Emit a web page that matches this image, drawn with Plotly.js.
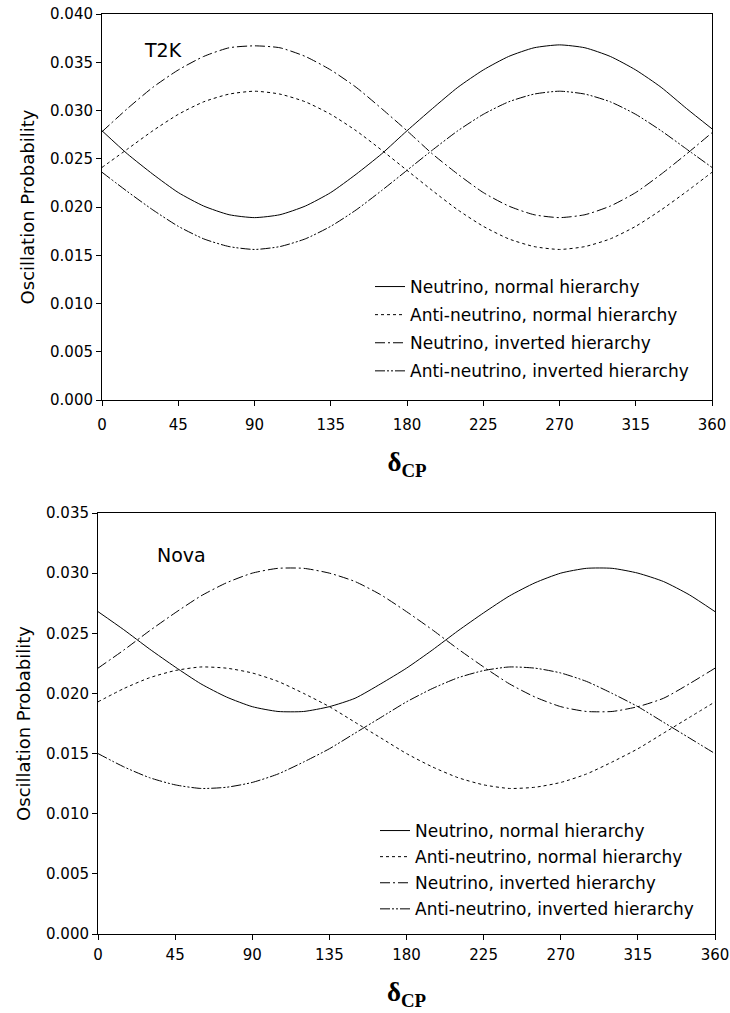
<!DOCTYPE html>
<html>
<head>
<meta charset="utf-8">
<script src="https://cdn.plot.ly/plotly-3.0.1.min.js"></script>
<style>html,body{margin:0;padding:0;background:#fff;}#chart{width:730px;height:1013px;}</style>
</head>
<body>
<div id="chart"></div>
<script>
// delta_CP values (degrees)
const deltaCP = [0,15,30,45,60,75,90,105,120,135,150,165,180,195,210,225,240,255,270,285,300,315,330,345,360];

// T2K panel
const t2kNuNormal   = [0.0279,0.0255,0.0234,0.0215,0.0201,0.0192,0.0189,0.0192,0.0201,0.0215,0.0234,0.0255,0.0279,0.0302,0.0324,0.0342,0.0356,0.0365,0.0368,0.0365,0.0356,0.0342,0.0324,0.0302,0.0281];
const t2kAntiNormal = [0.0241,0.0260,0.0279,0.0296,0.0309,0.0317,0.0320,0.0317,0.0309,0.0296,0.0279,0.0259,0.0238,0.0217,0.0197,0.0180,0.0167,0.0159,0.0156,0.0159,0.0167,0.0180,0.0197,0.0216,0.0236];
const t2kNuInverted = [0.0278,0.0302,0.0324,0.0342,0.0356,0.0365,0.0367,0.0365,0.0356,0.0342,0.0324,0.0302,0.0279,0.0255,0.0234,0.0215,0.0201,0.0192,0.0189,0.0192,0.0201,0.0215,0.0234,0.0255,0.0277];
const t2kAntiInverted = [0.0236,0.0216,0.0197,0.0180,0.0167,0.0159,0.0156,0.0159,0.0167,0.0180,0.0197,0.0217,0.0238,0.0259,0.0279,0.0296,0.0309,0.0317,0.0320,0.0317,0.0309,0.0296,0.0279,0.0260,0.0241];

// Nova panel
const novaNuNormal   = [0.0268,0.0253,0.0237,0.0222,0.0208,0.0197,0.0189,0.0185,0.0185,0.0189,0.0196,0.0208,0.0221,0.0236,0.0252,0.0267,0.0281,0.0292,0.0300,0.0304,0.0304,0.0300,0.0293,0.0282,0.0268];
const novaAntiNormal = [0.0193,0.0204,0.0213,0.0219,0.0222,0.0221,0.0217,0.0210,0.0200,0.0189,0.0176,0.0163,0.0150,0.0139,0.0130,0.0124,0.0121,0.0122,0.0126,0.0133,0.0143,0.0154,0.0167,0.0180,0.0193];
const novaNuInverted = [0.0221,0.0236,0.0252,0.0267,0.0281,0.0292,0.0300,0.0304,0.0304,0.0300,0.0293,0.0282,0.0268,0.0253,0.0237,0.0222,0.0208,0.0197,0.0189,0.0185,0.0185,0.0189,0.0196,0.0208,0.0221];
const novaAntiInverted = [0.0150,0.0139,0.0130,0.0124,0.0121,0.0122,0.0126,0.0133,0.0143,0.0154,0.0167,0.0180,0.0193,0.0204,0.0213,0.0219,0.0222,0.0221,0.0217,0.0210,0.0200,0.0189,0.0176,0.0163,0.0150];

const seriesNames = ['Neutrino, normal hierarchy','Anti-neutrino, normal hierarchy','Neutrino, inverted hierarchy','Anti-neutrino, inverted hierarchy'];
const xTickVals = [0,45,90,135,180,225,270,315,360];
const panelLabels = ['T2K','Nova'];

const dashes = ['solid','3px,3px','10px,3px,2px,3px','10px,2px,2px,2px,2px,2px'];
const t2kSeries = [t2kNuNormal,t2kAntiNormal,t2kNuInverted,t2kAntiInverted];
const novaSeries = [novaNuNormal,novaAntiNormal,novaNuInverted,novaAntiInverted];

const traces = [];
t2kSeries.forEach((ys,i)=>{
  traces.push({x:deltaCP,y:ys,xaxis:'x',yaxis:'y',mode:'lines',name:seriesNames[i],
    line:{color:'#000',width:1,dash:dashes[i],shape:'spline',smoothing:0.6},
    legend:'legend',legendgroup:'t'+i,hoverinfo:'x+y'});
});
novaSeries.forEach((ys,i)=>{
  traces.push({x:deltaCP,y:ys,xaxis:'x2',yaxis:'y2',mode:'lines',name:seriesNames[i],
    line:{color:'#000',width:1,dash:dashes[i],shape:'spline',smoothing:0.6},
    legend:'legend2',legendgroup:'n'+i,hoverinfo:'x+y'});
});

const W=730,H=1013;
const px=(a,b)=>[a/W,b/W];
const py=(top,bottom)=>[(H-bottom)/H,(H-top)/H];

const axisCommon = {showline:true,linecolor:'#000',linewidth:1,mirror:true,ticks:'outside',ticklen:5,tickcolor:'#000',
  showgrid:false,zeroline:false,tickfont:{family:'DejaVu Sans',size:15,color:'#000'}};
const xTitle = {text:'<b>δ<sub>CP</sub></b>',font:{family:'Liberation Serif',size:27,color:'#000'},standoff:19};
const yTitle = {text:'Oscillation Probability',font:{family:'DejaVu Sans',size:18,color:'#000'},standoff:10};
const legendFont = {family:'DejaVu Sans',size:17,color:'#000'};

const layout = {
  width:W,height:H,margin:{l:0,r:0,t:0,b:0},paper_bgcolor:'#fff',plot_bgcolor:'#fff',
  font:{family:'DejaVu Sans',size:15,color:'#000'},
  xaxis:Object.assign({},axisCommon,{domain:px(102,712),anchor:'y',range:[0,360],tickvals:xTickVals,ticklabelstandoff:6,title:xTitle}),
  yaxis:Object.assign({},axisCommon,{domain:py(14,400),anchor:'x',range:[0,0.04],dtick:0.005,tickformat:'.3f',title:yTitle}),
  xaxis2:Object.assign({},axisCommon,{domain:px(98,715),anchor:'y2',range:[0,360],tickvals:xTickVals,ticklabelstandoff:2,title:xTitle}),
  yaxis2:Object.assign({},axisCommon,{domain:py(513,934),anchor:'x2',range:[0,0.035],dtick:0.005,tickformat:'.3f',title:yTitle}),
  legend:{x:370/W,y:(H-269)/H,xanchor:'left',yanchor:'top',bgcolor:'rgba(0,0,0,0)',font:legendFont,tracegroupgap:3},
  legend2:{x:375/W,y:(H-813)/H,xanchor:'left',yanchor:'top',bgcolor:'rgba(0,0,0,0)',font:legendFont,tracegroupgap:1},
  showlegend:true,
  annotations:[
    {xref:'paper',yref:'paper',x:142/W,y:(H-50)/H,xanchor:'left',yanchor:'middle',text:panelLabels[0],showarrow:false,font:{family:'DejaVu Sans',size:19,color:'#000'}},
    {xref:'paper',yref:'paper',x:155/W,y:(H-555)/H,xanchor:'left',yanchor:'middle',text:panelLabels[1],showarrow:false,font:{family:'DejaVu Sans',size:19,color:'#000'}}
  ]
};

Plotly.newPlot('chart',traces,layout,{displayModeBar:false,staticPlot:true});
</script>
</body>
</html>
